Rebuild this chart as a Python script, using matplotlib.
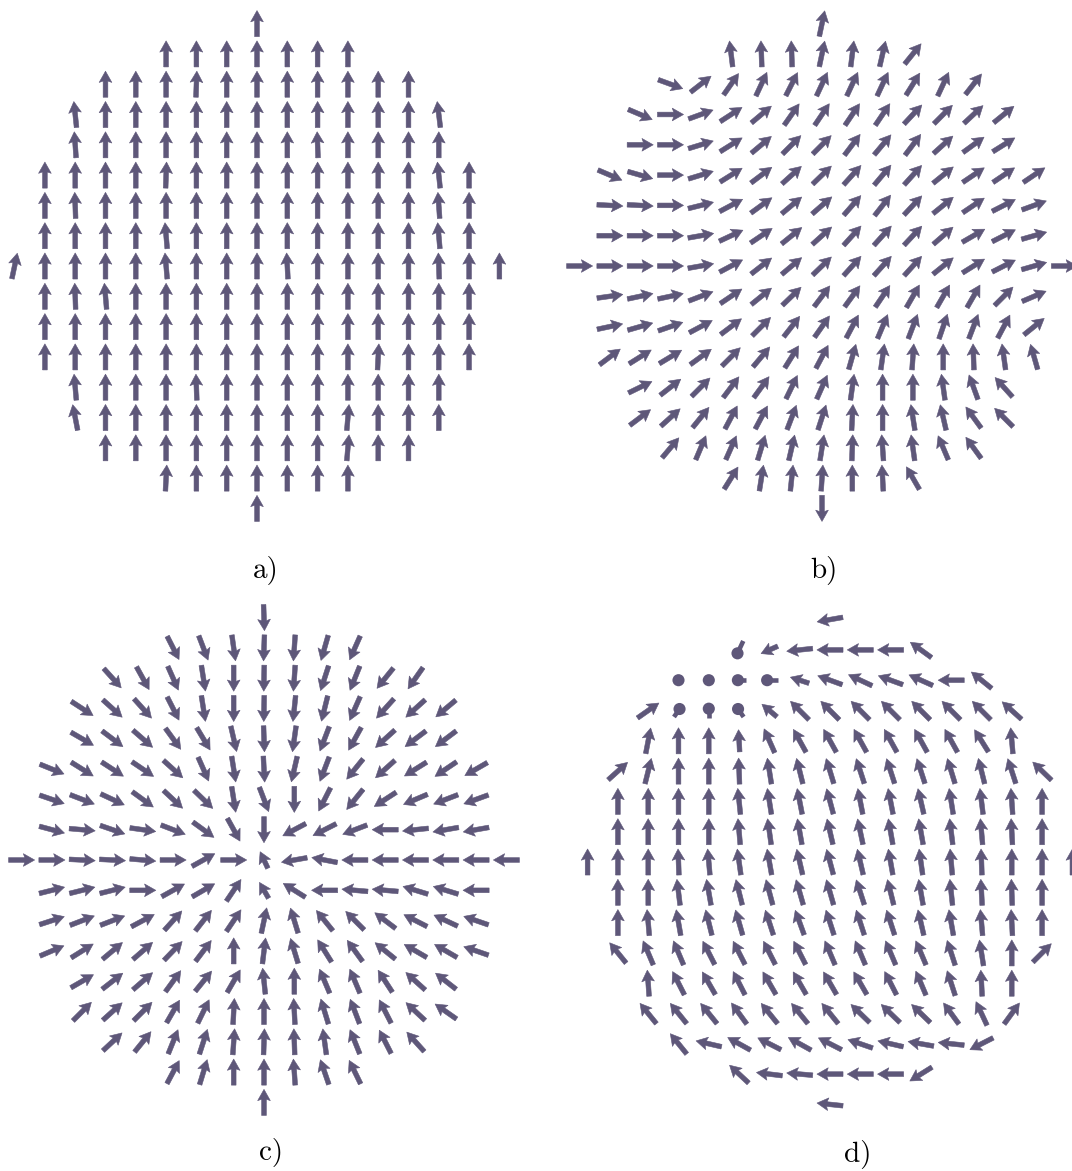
import numpy as np
import matplotlib.pyplot as plt
from matplotlib.patches import Circle

W, H = 1072, 1171
STEP = 30.3          # pixels between neighbouring spins
ARROW = '#5e5779'
L = 0.86             # full arrow length in lattice units

# in-plane spin directions (degrees from +x), rows from y=8 down to y=-8
angles_a = [
    [90],
    [90, 90, 90, 90, 90, 90, 90],
    [90, 90, 90, 88, 90, 90, 90, 90, 90, 90, 90],
    [96, 90, 90, 90, 90, 90, 90, 90, 90, 90, 90, 90, 97],
    [94, 90, 90, 90, 90, 90, 90, 90, 92, 90, 90, 90, 90],
    [90, 90, 90, 90, 88, 90, 90, 90, 90, 90, 90, 90, 90, 96, 90],
    [90, 92, 90, 90, 90, 90, 90, 90, 90, 90, 90, 90, 90, 94, 90],
    [90, 90, 90, 90, 95, 90, 90, 90, 90, 90, 90, 90, 90, 95, 90],
    [78, 90, 90, 90, 90, 95, 90, 90, 90, 93, 90, 90, 90, 90, 92, 90, 90],
    [90, 92, 95, 90, 90, 90, 90, 90, 90, 90, 90, 90, 90, 90, 90],
    [90, 90, 90, 90, 90, 90, 90, 90, 90, 90, 90, 90, 90, 90, 90],
    [90, 90, 90, 90, 90, 90, 90, 90, 90, 90, 90, 87, 90, 90, 90],
    [95, 90, 90, 90, 92, 90, 90, 90, 90, 90, 90, 90, 90],
    [101, 90, 90, 90, 90, 90, 90, 90, 90, 85, 90, 90, 90],
    [90, 90, 90, 90, 90, 90, 90, 90, 85, 90, 90],
    [87, 90, 90, 90, 90, 90, 90],
    [90],
]

angles_b = [
    [78],
    [97, 92, 92, 78, 83, 77, 51],
    [-20, 38, 55, 65, 63, 65, 65, 65, 58, 65, 52],
    [-23, 0, 20, 33, 40, 55, 56, 56, 56, 47, 45, 43, 39],
    [0, 0, 17, 32, 40, 45, 45, 53, 50, 53, 42, 36, 32],
    [-23, -16, 0, 17, 32, 37, 42, 44, 48, 50, 48, 39, 34, 34, 34],
    [-3, -3, 0, 14, 28, 36, 40, 41, 49, 52, 47, 39, 34, 27, 20],
    [0, 0, 0, 10, 25, 34, 39, 42, 48, 48, 47, 41, 30, 27, 16],
    [0, 0, 0, 0, 10, 28, 38, 40, 44, 48, 48, 48, 39, 32, 27, 16, 0],
    [8, 12, 12, 21, 34, 39, 44, 53, 54, 56, 60, 60, 60, 45, 23],
    [12, 16, 19, 28, 37, 45, 52, 55, 62, 67, 69, 71, 69, 62, 39],
    [37, 32, 31, 36, 45, 50, 58, 62, 74, 82, 86, 90, 92, 98, 106],
    [26, 38, 45, 53, 54, 64, 66, 82, 90, 90, 98, 110, 132],
    [37, 42, 51, 62, 62, 69, 72, 87, 90, 99, 103, 126, 135],
    [50, 67, 66, 73, 77, 81, 88, 94, 98, 113, 126],
    [58, 81, 84, 86, 90, 93, 120],
    [-90],
]

angles_c = [
    [-88],
    [-63, -69, -82, -92, -94, -106, -114],
    [-48, -61, -66, -81, -90, -91, -94, -108, -112, -129, -125],
    [-33, -42, -48, -63, -81, -90, -91, -96, -104, -114, -132, -138, -140],
    [-30, -37, -41, -54, -59, -77, -88, -98, -111, -119, -138, -143, -143],
    [-22, -32, -33, -34, -42, -66, -81, -87, -103, -111, -129, -138, -148, -146, -150],
    [-19, -21, -25, -36, -43, -44, -81, -69, -90, -117, -129, -147, -157, -159, -160],
    [-15, -5, -19, -8, -21, -36, -61, -90, -152, -153, -159, 180, -174, -170, -170],
    [0, 0, -3, -3, -5, 0, 29, 0, 115, -170, 169, 180, 180, 180, 180, 180, 180],
    [14, 14, 14, 0, 29, 30, 56, 120, 148, 180, 175, 175, 163, 163, 180],
    [18, 21, 21, 28, 48, 52, 56, 78, 107, 129, 135, 143, 153, 155, 161],
    [23, 32, 40, 41, 46, 53, 90, 83, 107, 122, 126, 141, 150, 150, 161],
    [30, 38, 41, 54, 51, 60, 96, 90, 113, 113, 123, 138, 142],
    [45, 42, 45, 60, 64, 87, 90, 93, 107, 111, 117, 137, 145],
    [43, 51, 68, 72, 86, 88, 92, 98, 112, 117, 132],
    [62, 73, 90, 90, 94, 109, 116],
    [90],
]

angles_d = [
    [190],
    [-115, 204, 186, 180, 180, 180, 144],
    [180, 180, 180, 180, 162, 160, 155, 160, 156, 180, 141],
    [35, 55, 90, 125, 140, 135, 135, 135, 135, 135, 135, 135, 138],
    [79, 90, 90, 93, 114, 119, 119, 119, 119, 119, 119, 122, 95],
    [42, 76, 90, 90, 92, 99, 104, 107, 108, 108, 108, 107, 104, 108, 136],
    [90, 90, 90, 90, 96, 99, 101, 105, 101, 101, 103, 99, 97, 94, 90],
    [90, 90, 90, 90, 95, 98, 100, 103, 102, 100, 100, 97, 95, 93, 90],
    [90, 90, 90, 92, 95, 98, 100, 103, 105, 103, 100, 98, 95, 92, 90, 90, 90],
    [90, 90, 97, 100, 104, 105, 106, 106, 108, 104, 100, 96, 93, 92, 90],
    [90, 95, 100, 104, 106, 108, 110, 108, 108, 108, 103, 100, 95, 93, 90],
    [129, 113, 113, 117, 117, 117, 117, 113, 113, 113, 113, 108, 99, 90, 45],
    [94, 117, 120, 117, 120, 120, 120, 120, 117, 113, 108, 93, 90],
    [129, 129, 129, 126, 129, 129, 129, 136, 136, 136, 126, 115, 54],
    [129, 167, 151, 153, 151, 153, 161, 167, 170, 174, 207],
    [137, 173, 175, 180, 180, 180, 212],
    [174],
]

# spins partly tilted out of the plane: (x, y, projected length fraction)
short_a = []
short_b = []
short_c = [(0, 0, 0.7), (0, -1, 0.7)]
short_d = [(-2, 7, 0.7), (-1, 6, 0.75), (-2, 5, 0.75), (-3, 4, 0.85)]

# spins nearly along the viewing axis, seen as a disc: (x, y, visible shaft stub)
dots_a = []
dots_b = []
dots_c = []
dots_d = [(-3, 7, 0.25), (-5, 6, 0.0), (-4, 6, 0.0), (-3, 6, 0.08),
          (-2, 6, 0.15), (-5, 5, 0.12), (-4, 5, 0.12), (-3, 5, 0.12)]

panels = [angles_a, angles_b, angles_c, angles_d]
shorts = [short_a, short_b, short_c, short_d]
dots = [dots_a, dots_b, dots_c, dots_d]
labels = ['a)', 'b)', 'c)', 'd)']
centres = [(257, 266), (822, 266), (264, 860), (830, 862)]
label_xy = [(266, 578), (824, 578), (271, 1160), (858, 1162)]


def lattice(rows):
    xs, ys, th = [], [], []
    for k, row in enumerate(rows):
        n = len(row)
        for i, a in enumerate(row):
            xs.append(i - (n - 1) // 2)
            ys.append(8 - k)
            th.append(a)
    return np.array(xs), np.array(ys), np.radians(th)


fig = plt.figure(figsize=(W / 100, H / 100), dpi=100)

for rows, sh, dt, (cx, cy) in zip(panels, shorts, dots, centres):
    ax = fig.add_axes([(cx - 9 * STEP) / W, 1 - (cy + 9 * STEP) / H,
                       18 * STEP / W, 18 * STEP / H])
    ax.set_xlim(-9, 9)
    ax.set_ylim(-9, 9)
    ax.axis('off')

    x, y, th = lattice(rows)
    f = np.ones(len(x))
    for sx, sy, sf in sh:
        f[(x == sx) & (y == sy)] = sf
    keep = np.ones(len(x), bool)
    for dx, dy, _ in dt:
        keep[(x == dx) & (y == dy)] = False

    ax.quiver(x[keep], y[keep],
              L * f[keep] * np.cos(th[keep]), L * f[keep] * np.sin(th[keep]),
              angles='xy', scale_units='xy', scale=1, pivot='mid',
              units='xy', width=0.155, headwidth=2.7, headlength=2.4,
              headaxislength=2.1, color=ARROW, lw=0.4, edgecolor=ARROW)

    # end-on spins: a disc for the cone plus a short bit of shaft
    r = 0.2
    for dx, dy, stub in dt:
        a = th[(x == dx) & (y == dy)][0]
        d = np.array([np.cos(a), np.sin(a)])
        p = np.array([dx, dy], float)
        e = 2 * r + stub
        head = p + (e / 2 - r) * d
        tail = p - (e / 2) * d
        if stub > 0:
            ax.plot([tail[0], head[0]], [tail[1], head[1]], color=ARROW,
                    lw=3.3, solid_capstyle='butt')
        ax.add_patch(Circle(head, r, color=ARROW, lw=0))

for lab, (lx, ly) in zip(labels, label_xy):
    fig.text(lx / W, 1 - ly / H, lab, ha='center', va='baseline',
             fontsize=21, family='cmr10')

fig.savefig('out.png', dpi=100, facecolor='white')
